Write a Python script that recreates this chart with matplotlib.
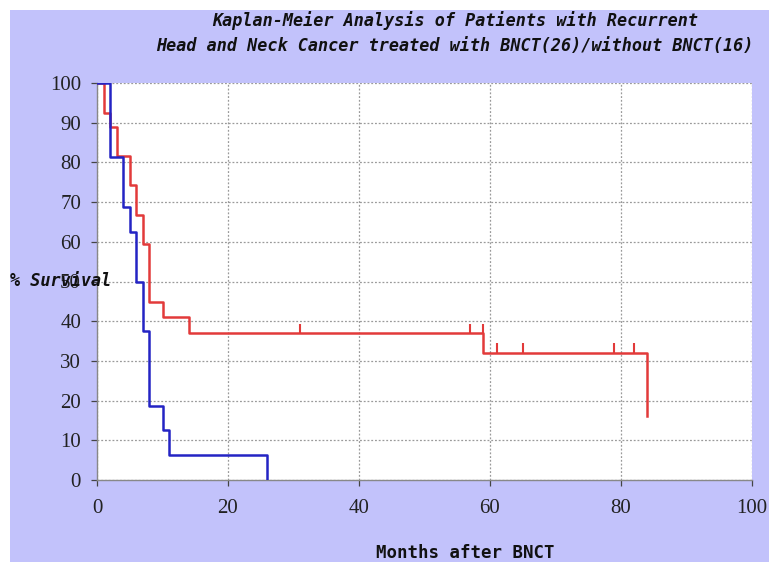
import matplotlib
matplotlib.use("Agg")
import matplotlib.pyplot as plt
from matplotlib.patches import Rectangle

# Kaplan-Meier step data (months, % survival)
bnct_months = [0, 1, 2, 3, 5, 6, 7, 8, 10, 14, 59, 84]
bnct_surv = [100, 92.5, 89, 81.5, 74.3, 66.8, 59.4, 44.9, 41, 37, 32, 16]
bnct_censor_months = [31, 57, 59, 61, 65, 79, 82]
bnct_censor_surv = [37, 37, 37, 32, 32, 32, 32]

no_bnct_months = [0, 2, 4, 5, 6, 7, 8, 10, 11, 26]
no_bnct_surv = [100, 81.25, 68.75, 62.5, 50, 37.5, 18.75, 12.5, 6.25, 0]

x_ticks = [0, 20, 40, 60, 80, 100]
y_ticks = [0, 10, 20, 30, 40, 50, 60, 70, 80, 90, 100]

TITLE = ("Kaplan-Meier Analysis of Patients with Recurrent\n"
         "Head and Neck Cancer treated with BNCT(26)/without BNCT(16)")
BG = '#c2c2fb'
RED = '#e23a3a'
BLUE = '#2424c4'
MONO = 'DejaVu Sans Mono'

fig = plt.figure(figsize=(7.69, 5.66), dpi=100, facecolor='white')
fig.patches.append(Rectangle((10 / 769, 4 / 566), 1, 552 / 566, transform=fig.transFigure,
                             facecolor=BG, edgecolor='none', zorder=-10))

ax = fig.add_axes([97 / 769, 86 / 566, 655 / 769, 397 / 566])
ax.set_facecolor('white')
ax.set_xlim(0, 100)
ax.set_ylim(0, 100)

ax.step(bnct_months, bnct_surv, where='post', color=RED, lw=1.8, zorder=3)
ax.step(no_bnct_months, no_bnct_surv, where='post', color=BLUE, lw=1.8, zorder=4)
# censored observations as small ticks above the curve
ax.vlines(bnct_censor_months, bnct_censor_surv, [v + 2.4 for v in bnct_censor_surv],
          color=RED, lw=1.5, zorder=3)

ax.set_xticks(x_ticks)
ax.set_yticks(y_ticks)
ax.grid(True, color='#9a9a9a', ls=(0, (1.5, 1.5)), lw=0.9)
for side in ['top', 'right']:
    ax.spines[side].set_visible(False)
for side in ['left', 'bottom']:
    ax.spines[side].set_color('#888888')
    ax.spines[side].set_linewidth(1.0)

ax.tick_params(axis='both', direction='out', length=4.5, width=0.9, color='#444444',
               labelsize=15, labelcolor='#222222')
ax.tick_params(axis='y', pad=7)
ax.tick_params(axis='x', pad=9)
for lab in ax.get_xticklabels() + ax.get_yticklabels():
    lab.set_family('Liberation Serif')

fig.text(455 / 769, 1 - 33 / 566, TITLE, ha='center', va='center', family=MONO,
         style='italic', fontweight='bold', fontsize=12.1, linespacing=1.55, color='#111111')
fig.text(10 / 769, 1 - 281 / 566, '% Survival', ha='left', va='center', family=MONO,
         style='italic', fontweight='bold', fontsize=12.1, color='#111111', zorder=5)
fig.text(465 / 769, 1 - 553 / 566, 'Months after BNCT', ha='center', va='center',
         family=MONO, fontsize=12.5, fontweight='bold', color='#111111')

fig.savefig('out.png', dpi=100, facecolor='white')
